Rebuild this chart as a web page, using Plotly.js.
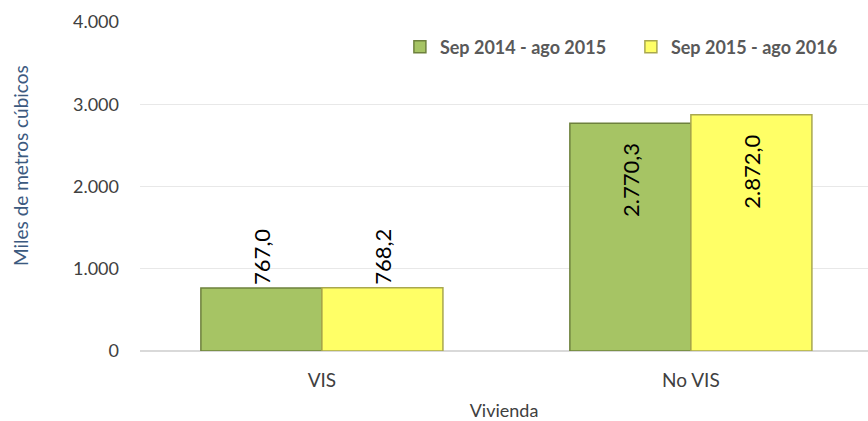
<!DOCTYPE html>
<html>
<head>
<meta charset="utf-8">
<script src="https://cdn.plot.ly/plotly-3.0.1.min.js"></script>
<style>html,body{margin:0;padding:0;background:#fff;}#chart{width:868px;height:421px;}</style>
</head>
<body>
<div id="chart"></div>
<script>
var categories = ['VIS', 'No VIS'];
var seriesNames = ['Sep 2014 - ago 2015', 'Sep 2015 - ago 2016'];
var values2015 = [767.0, 2770.3];
var values2016 = [768.2, 2872.0];
var yTickValues = [0, 1000, 2000, 3000, 4000];

var font = 'Lato, "Open Sans", sans-serif';
var pad = '\u00a0\u00a0\u00a0';

function barTrace(name, values, fill, line) {
  var tf = {family: font, size: 22, color: '#000'};
  return {
    type: 'bar', name: name, x: categories, y: values,
    marker: {color: fill, line: {color: line, width: 1.5}},
    texttemplate: ['%{y:,.1f}', '%{y:,.1f}' + pad],
    textposition: ['outside', 'inside'], insidetextanchor: 'end',
    textangle: -90, textfont: tf, outsidetextfont: tf, insidetextfont: tf,
    cliponaxis: false
  };
}

var traces = [
  barTrace(seriesNames[0], values2015, '#A6C464', '#6E813D'),
  barTrace(seriesNames[1], values2016, '#FFFF66', '#A9A84E')
];

var layout = {
  width: 868, height: 421,
  margin: {l: 140, r: 0, t: 22, b: 70},
  paper_bgcolor: '#fff', plot_bgcolor: '#fff',
  separators: ',.',
  font: {family: font, color: '#404040'},
  barmode: 'group', bargap: 0.344, bargroupgap: 0,
  showlegend: true,
  legend: {
    orientation: 'h', x: 0.357, y: 0.924, xanchor: 'left', yanchor: 'middle',
    entrywidth: 186, entrywidthmode: 'pixels',
    font: {family: font, size: 18, color: '#595959', weight: 'bold'},
    bgcolor: 'rgba(0,0,0,0)'
  },
  xaxis: {
    type: 'category', range: [-0.493, 1.48],
    showgrid: false, zeroline: false, showline: false, ticks: '',
    ticklabelstandoff: 16,
    tickfont: {family: font, size: 19, color: '#404040'},
    title: {text: 'Vivienda', font: {family: font, size: 18, color: '#404040'}, standoff: 14},
    automargin: false
  },
  yaxis: {
    range: [0, 4000], tickvals: yTickValues, tickformat: ',.0f',
    showgrid: true, gridcolor: '#E8E8E8', gridwidth: 1,
    zeroline: true, zerolinecolor: '#D9D9D9', zerolinewidth: 1.5,
    showline: false, ticks: '', ticklabelstandoff: 20,
    tickfont: {family: font, size: 18, color: '#404040'},
    automargin: false
  },
  annotations: [{
    text: 'Miles de metros cúbicos', textangle: -90,
    xref: 'paper', yref: 'paper', x: -0.165, y: 0.565,
    xanchor: 'center', yanchor: 'middle', showarrow: false,
    font: {family: font, size: 19, color: '#3C5A80'}
  }]
};

Plotly.newPlot('chart', traces, layout, {displayModeBar: false, staticPlot: true});
</script>
</body>
</html>
